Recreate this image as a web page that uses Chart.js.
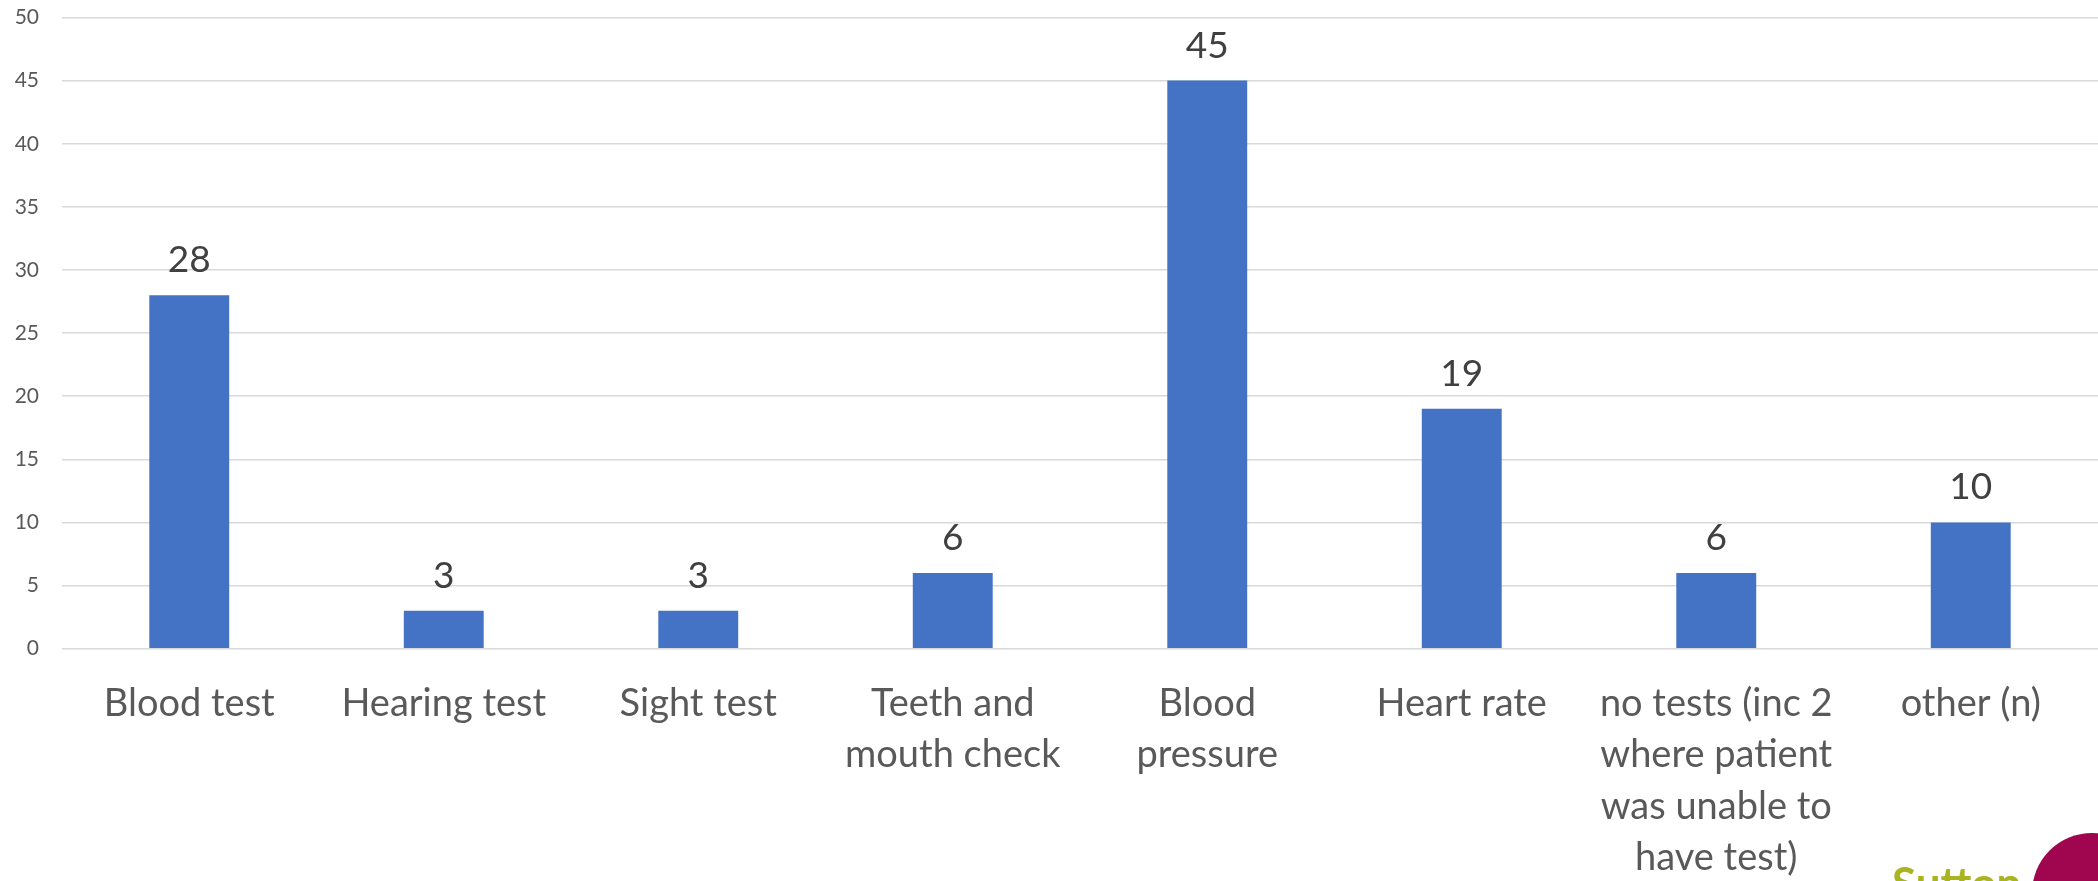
<!DOCTYPE html>
<html>
<head>
<meta charset="utf-8">
<script src="https://cdn.jsdelivr.net/npm/chart.js@4/dist/chart.umd.min.js"></script>
<style>
  html, body { margin: 0; padding: 0; background: #fff; }
  #wrap { width: 2098px; height: 881px; position: relative; }
</style>
</head>
<body>
<div id="wrap"><canvas id="testsChart"></canvas></div>
<script>
// tests carried out - bar chart
var categories = [
  'Blood test',
  'Hearing test',
  'Sight test',
  ['Teeth and', 'mouth check'],
  ['Blood', 'pressure'],
  'Heart rate',
  ['no tests (inc 2', 'where patient', 'was unable to', 'have test)'],
  'other (n)'
];
var counts = [28, 3, 3, 6, 45, 19, 6, 10];
var yTicks = [0, 5, 10, 15, 20, 25, 30, 35, 40, 45, 50];

var barColor = '#4472C4';
var font = 'Lato, "Open Sans", sans-serif';

// value labels above each bar
var valueLabels = {
  id: 'valueLabels',
  afterDatasetsDraw: function (chart) {
    var ctx = chart.ctx;
    var meta = chart.getDatasetMeta(0);
    ctx.save();
    ctx.font = '37px ' + font;
    ctx.fillStyle = '#404040';
    ctx.textAlign = 'center';
    ctx.textBaseline = 'alphabetic';
    meta.data.forEach(function (bar, i) {
      ctx.fillText(String(counts[i]), bar.x, bar.y - 23);
    });
    ctx.restore();
  }
};

// partial logo in the bottom right corner
var cornerLogo = {
  id: 'cornerLogo',
  afterDraw: function (chart) {
    var ctx = chart.ctx;
    var w = chart.width, h = chart.height;
    ctx.save();
    ctx.fillStyle = '#a0064f';
    ctx.beginPath();
    ctx.arc(w - 6, h + 12, 60, 0, Math.PI * 2);
    ctx.fill();
    ctx.fillStyle = '#fff';
    ctx.font = 'bold 56px ' + font;
    ctx.textAlign = 'left';
    ctx.textBaseline = 'top';
    ctx.fillText('m', w - 54, h - 14);
    ctx.fillStyle = '#a9b41f';
    ctx.font = 'bold 44px ' + font;
    ctx.fillText('Sutton', w - 206, h - 18);
    ctx.restore();
  }
};

new Chart(document.getElementById('testsChart'), {
  type: 'bar',
  data: {
    labels: categories,
    datasets: [{
      data: counts,
      backgroundColor: barColor,
      borderWidth: 0,
      barPercentage: 0.314,
      categoryPercentage: 1
    }]
  },
  options: {
    responsive: true,
    maintainAspectRatio: false,
    animation: false,
    layout: { padding: { top: 17.5, right: 0, bottom: 0, left: 0 } },
    plugins: { legend: { display: false }, tooltip: { enabled: false } },
    scales: {
      x: {
        grid: { display: false },
        border: { display: false },
        ticks: {
          color: '#595959',
          font: { family: font, size: 38, lineHeight: 1.355 },
          padding: 21,
          maxRotation: 0,
          autoSkip: false
        },
        afterFit: function (scale) {
          scale.height = 232.3;
          scale.paddingTop = 0;
          scale.paddingBottom = 0;
        }
      },
      y: {
        min: 0,
        max: 50,
        grid: { color: '#d9d9d9', lineWidth: 1.5, drawTicks: false },
        border: { display: false },
        afterBuildTicks: function (scale) {
          scale.ticks = yTicks.map(function (v) { return { value: v }; });
        },
        ticks: {
          color: '#595959',
          font: { family: font, size: 21 },
          padding: 23
        },
        afterFit: function (scale) {
          scale.width = 62;
          scale.paddingTop = 0;
          scale.paddingBottom = 0;
        }
      }
    }
  },
  plugins: [valueLabels, cornerLogo]
});
</script>
</body>
</html>
